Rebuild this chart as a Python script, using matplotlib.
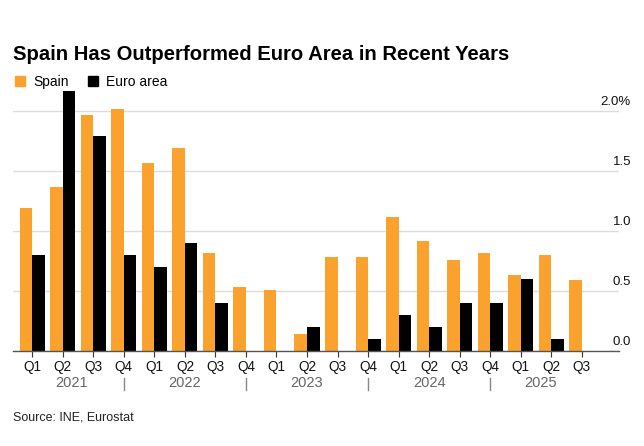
import matplotlib
matplotlib.use("Agg")
import matplotlib.pyplot as plt
import matplotlib.transforms as mtransforms
from matplotlib.lines import Line2D
import numpy as np

quarters = ["Q1", "Q2", "Q3", "Q4"] * 4 + ["Q1", "Q2", "Q3"]
years = ["2021", "2022", "2023", "2024", "2025"]
spain = [1.19, 1.36, 1.96, 2.01, 1.56, 1.69, 0.81, 0.53, 0.51, 0.14, 0.78,
         0.78, 1.11, 0.91, 0.76, 0.81, 0.63, 0.80, 0.59]
euro = [0.80, 2.16, 1.79, 0.80, 0.70, 0.90, 0.40, 0.0, 0.0, 0.20, 0.0,
        0.10, 0.30, 0.20, 0.40, 0.40, 0.60, 0.10, np.nan]
yticks = [0.0, 0.5, 1.0, 1.5, 2.0]

ORANGE = "#FBA12E"
FONT = "Liberation Sans"
plt.rcParams["font.family"] = [FONT, "DejaVu Sans"]

fig = plt.figure(figsize=(6.44, 4.46), dpi=100)
W, H = 644, 446
left, right, bottom = 13, 619, 350.7
ppu = 120.0
ytop = 2.2
top = bottom - ytop * ppu
ax = fig.add_axes([left / W, 1 - bottom / H, (right - left) / W, (bottom - top) / H])

x = np.arange(len(spain))
w = 0.41
ax.bar(x - w / 2, spain, width=w, color=ORANGE, linewidth=0, label="Spain", zorder=3)
ax.bar(x + w / 2, euro, width=w, color="black", linewidth=0, label="Euro area", zorder=3)

ax.set_xlim(-0.63, 19.22)
ax.set_ylim(0, ytop)

for s in ["top", "left", "right"]:
    ax.spines[s].set_visible(False)
ax.spines["bottom"].set_color("#555555")
ax.spines["bottom"].set_linewidth(1.0)
ax.spines["bottom"].set_zorder(4)

ax.set_xticks(x)
ax.set_xticklabels(quarters, fontsize=9.8, color="#111111")
ax.tick_params(axis="x", length=4, width=0.8, color="#333333", pad=3)

ax.yaxis.tick_right()
ax.set_yticks(yticks)
ax.set_yticklabels([f"{v:.1f}%" if v == max(yticks) else f"{v:.1f}" for v in yticks],
                   fontsize=9.5, color="#111111")
ax.tick_params(axis="y", length=0, pad=0)
off = mtransforms.ScaledTranslation(12 / 100, 10 / 100, fig.dpi_scale_trans)
for lab in ax.get_yticklabels():
    lab.set_horizontalalignment("right")
    lab.set_transform(lab.get_transform() + off)
ax.grid(axis="y", color="#dcdcdc", linewidth=1.0, zorder=0)
ax.set_axisbelow(True)

# year labels and separators
trans = mtransforms.blended_transform_factory(ax.transData, ax.transAxes)
year_pos = [1.3, 5.0, 9.0, 13.0, 16.65]
for yr, xp in zip(years, year_pos):
    ax.text(xp, -(382.7 - bottom) / (bottom - top), yr, transform=trans,
            ha="center", va="center", fontsize=10.5, color="#666666")
for sx in [3, 7, 11, 15]:
    ax.plot([sx, sx], [-(378 - bottom) / (bottom - top), -(390 - bottom) / (bottom - top)],
            transform=trans, color="#888888", linewidth=1.0, clip_on=False)

fig.text(13 / W, 1 - 55 / H, "Spain Has Outperformed Euro Area in Recent Years",
         fontsize=14.6, fontweight="bold", ha="left", va="center", color="#000000")

handles = [Line2D([], [], marker="s", linestyle="none", markersize=7, color=ORANGE),
           Line2D([], [], marker="s", linestyle="none", markersize=7, color="black")]
fig.legend(handles, ["Spain", "Euro area"], loc="center left",
           bbox_to_anchor=(14 / W, 1 - 82 / H), ncol=2, frameon=False,
           fontsize=10, handlelength=0.8, handletextpad=0.6, columnspacing=1.3,
           borderaxespad=0, borderpad=0)

fig.text(13 / W, 1 - 418 / H, "Source: INE, Eurostat", fontsize=9, ha="left",
         va="center", color="#222222")

fig.savefig("out.png", dpi=100)
